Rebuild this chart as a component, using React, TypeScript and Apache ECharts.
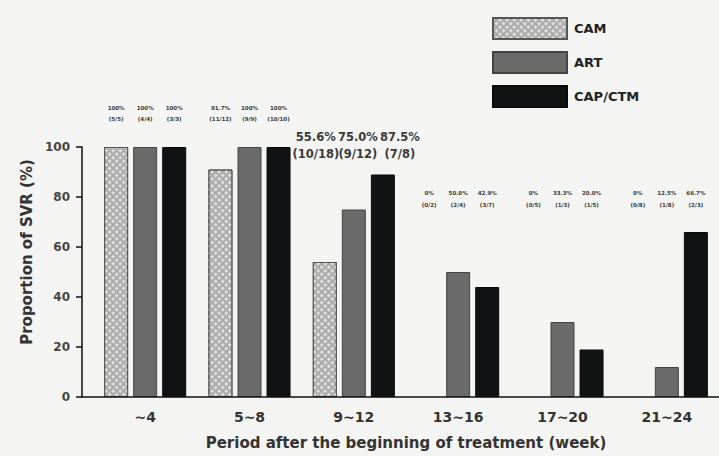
import React, { useEffect, useRef } from "react";
import * as echarts from "echarts";

const categories = ["~4", "5~8", "9~12", "13~16", "17~20", "21~24"];
const seriesNames = ["CAM", "ART", "CAP/CTM"];
const camValues = [100, 91, 54, 0, 0, 0];
const artValues = [100, 100, 75, 50, 30, 12];
const capValues = [100, 100, 89, 44, 19, 66];
const camPct = ["100%", "91.7%", "55.6%", "0%", "0%", "0%"];
const camFrac = ["(5/5)", "(11/12)", "(10/18)", "(0/2)", "(0/5)", "(0/8)"];
const artPct = ["100%", "100%", "75.0%", "50.0%", "33.3%", "12.5%"];
const artFrac = ["(4/4)", "(9/9)", "(9/12)", "(2/4)", "(1/3)", "(1/8)"];
const capPct = ["100%", "100%", "87.5%", "42.9%", "20.0%", "66.7%"];
const capFrac = ["(3/3)", "(10/10)", "(7/8)", "(3/7)", "(1/5)", "(2/3)"];
const yTitle = "Proportion of SVR (%)";
const xTitle = "Period after the beginning of treatment (week)";

const FONT = "DejaVu Sans";

function labelStyle(groupIdx: number, seriesIdx: number) {
  if (groupIdx === 2) {
    const dx = [-9, 4, 17][seriesIdx];
    return { fontSize: 11.5, lineHeight: 17, offset: [dx, -234.5] };
  }
  if (groupIdx < 2) {
    return { fontSize: 5.5, lineHeight: 11, offset: [0, -272.5] };
  }
  return { fontSize: 5.5, lineHeight: 12, offset: [0, -186] };
}

function buildData(values: number[], pct: string[], frac: string[], seriesIdx: number) {
  return values.map((v, i) => {
    const s = labelStyle(i, seriesIdx);
    const item: any = {
      value: v,
      label: {
        show: true,
        position: "insideBottom",
        distance: 0,
        offset: s.offset,
        formatter: pct[i] + "\n" + frac[i],
        fontSize: s.fontSize,
        lineHeight: s.lineHeight,
        fontWeight: "bold",
        fontFamily: FONT,
        color: "#3a3a3a",
      },
    };
    if (v === 0) item.itemStyle = { borderWidth: 0 };
    return item;
  });
}

export default function App() {
  const ref = useRef<HTMLDivElement>(null);
  useEffect(() => {
    document.body.style.margin = "0";
    if (!ref.current) return;
    const chart = echarts.init(ref.current, undefined, { renderer: "svg" });
    const option: any = {
      animation: false,
      backgroundColor: "#f4f4f2",
      legend: {
        orient: "vertical",
        left: 487,
        top: 12,
        itemWidth: 74,
        itemHeight: 21,
        itemGap: 11,
        icon: "rect",
        data: seriesNames,
        textStyle: {
          fontFamily: FONT,
          fontWeight: "bold",
          fontSize: 13,
          color: "#222",
          padding: [0, 0, 0, 2],
        },
      },
      grid: { left: 93, top: 147, width: 634, height: 250 },
      xAxis: {
        type: "category",
        data: categories,
        axisLine: { show: false },
        axisTick: { show: false },
        axisLabel: {
          margin: 13,
          fontFamily: FONT,
          fontWeight: "bold",
          fontSize: 14,
          color: "#333",
        },
        name: xTitle,
        nameLocation: "middle",
        nameGap: 38,
        nameTextStyle: {
          fontFamily: FONT,
          fontWeight: "bold",
          fontSize: 15,
          color: "#333",
        },
      },
      yAxis: {
        type: "value",
        min: 0,
        max: 100,
        interval: 20,
        offset: 11,
        splitLine: { show: false },
        axisLine: { show: true, lineStyle: { color: "#111", width: 1.5 } },
        axisTick: { show: true, length: 6, lineStyle: { color: "#111", width: 1.5 } },
        axisLabel: {
          margin: 12,
          fontFamily: FONT,
          fontWeight: "bold",
          fontSize: 12,
          color: "#444",
        },
        name: yTitle,
        nameLocation: "middle",
        nameGap: 48,
        nameTextStyle: {
          fontFamily: FONT,
          fontWeight: "bold",
          fontSize: 15,
          color: "#333",
          padding: [0, 0, 0, 40],
        },
      },
      graphic: [
        {
          type: "line",
          shape: { x1: 82, y1: 397, x2: 719, y2: 397 },
          style: { stroke: "#111", lineWidth: 1.5 },
          z: 10,
        },
      ],
      series: [
        {
          name: "CAM",
          type: "bar",
          barWidth: 24,
          barGap: "21%",
          data: buildData(camValues, camPct, camFrac, 0),
          itemStyle: {
            color: "#ababab",
            borderColor: "#555",
            borderWidth: 1,
            decal: {
              symbol: "rect",
              symbolSize: 1,
              color: "rgba(225,225,225,0.9)",
              dashArrayX: [3, 1.5],
              dashArrayY: [3, 1.5],
              rotation: Math.PI / 4,
            },
          },
        },
        {
          name: "ART",
          type: "bar",
          barWidth: 24,
          barGap: "21%",
          data: buildData(artValues, artPct, artFrac, 1),
          itemStyle: { color: "#6a6a6a", borderColor: "#444", borderWidth: 1 },
        },
        {
          name: "CAP/CTM",
          type: "bar",
          barWidth: 24,
          barGap: "21%",
          data: buildData(capValues, capPct, capFrac, 2),
          itemStyle: { color: "#101314", borderColor: "#0a0a0a", borderWidth: 1 },
        },
      ],
    };
    chart.setOption(option);
    return () => chart.dispose();
  }, []);
  return <div ref={ref} style={{ width: 719, height: 456 }} />;
}
